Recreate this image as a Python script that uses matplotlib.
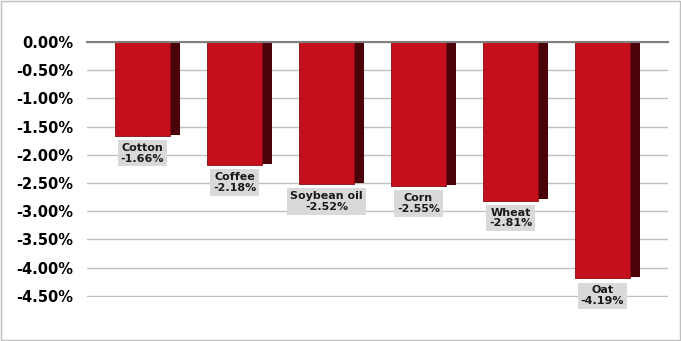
import matplotlib.pyplot as plt
import matplotlib.patches as patches
import numpy as np

# data
commodities = ['Cotton', 'Coffee', 'Soybean oil', 'Corn', 'Wheat', 'Oat']
changes = [-1.66, -2.18, -2.52, -2.55, -2.81, -4.19]
yticks = [0.0, -0.5, -1.0, -1.5, -2.0, -2.5, -3.0, -3.5, -4.0, -4.5]

front_color = '#c50f1c'
side_color = '#4a0309'

fig = plt.figure(figsize=(6.81, 3.41), dpi=100)
fig.patch.set_facecolor('white')
# outer chart border
fig.add_artist(patches.Rectangle((0.001, 0.003), 0.997, 0.994, transform=fig.transFigure,
                                 fill=False, edgecolor='#bfbfbf', linewidth=1))

W, H = 681, 341
ax = fig.add_axes([87 / W, 1 - 297 / H, (668 - 87) / W, (297 - 42) / H])

x = np.arange(len(commodities))
front_w = 0.598
side_w = 0.109
front_off = -0.054

# dark side face (fake 3D depth)
ax.bar(x + front_off + front_w / 2 + side_w / 2, [v + 0.02 for v in changes], width=side_w,
       color=side_color, zorder=2)
# front face
ax.bar(x + front_off, changes, width=front_w, color=front_color,
       edgecolor='#8a0a12', linewidth=0.6, zorder=3)

for xi, val, name in zip(x, changes, commodities):
    ax.text(xi + front_off, val - 0.31, f'{name}\n{val:.2f}%', ha='center', va='center',
            fontsize=8, fontweight='bold', color='#1a1a1a', linespacing=1.1, zorder=4,
            bbox=dict(boxstyle='square,pad=0.25', facecolor='#d9d9d9', edgecolor='none'))

ax.set_xlim(-0.658, 5.658)
ax.set_ylim(-4.52, 0)
ax.set_yticks(yticks)
ax.set_yticklabels([f'{t:.2f}%' for t in yticks])
ax.set_xticks([])
ax.tick_params(axis='y', length=0, pad=10, labelsize=10.5)
for lbl in ax.get_yticklabels():
    lbl.set_fontweight('bold')
ax.yaxis.grid(True, color='#bfbfbf', linewidth=1, zorder=0)
ax.set_axisbelow(True)
for side in ['left', 'right', 'bottom']:
    ax.spines[side].set_visible(False)
ax.spines['top'].set_color('#7f7f7f')
ax.spines['top'].set_linewidth(1.5)
ax.spines['top'].set_zorder(5)

fig.savefig('out.png', dpi=100)
